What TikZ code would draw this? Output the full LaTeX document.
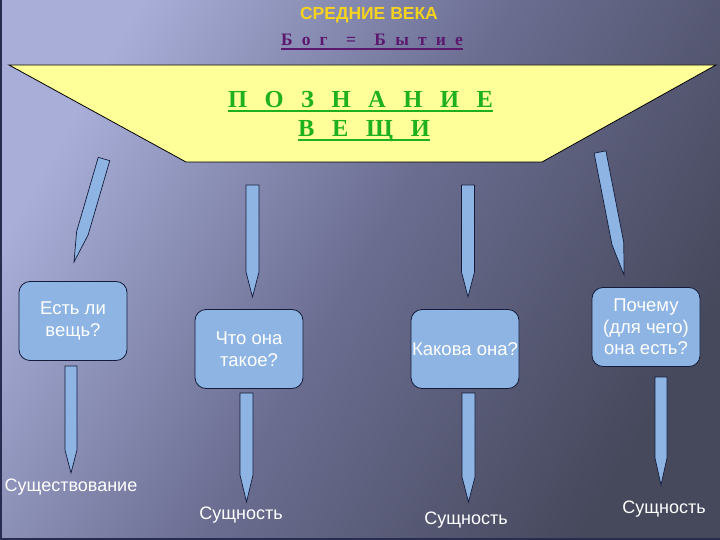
\documentclass[tikz,border=0pt]{standalone}
\usepackage{fontspec}
\setmainfont{Liberation Sans}
\newfontfamily\serifbf{Liberation Serif}
\usetikzlibrary{calc}
\definecolor{bgA}{RGB}{168,174,216}
\definecolor{bgB}{RGB}{106,109,144}
\definecolor{bgC}{RGB}{70,72,92}
\definecolor{pfill}{RGB}{141,180,226}
\definecolor{pline}{RGB}{20,28,60}
\definecolor{titleY}{RGB}{245,210,30}
\definecolor{bogC}{RGB}{92,24,110}
\definecolor{greenT}{RGB}{30,176,30}
\definecolor{trapY}{RGB}{255,255,153}
\definecolor{rim}{RGB}{40,44,80}
\newcommand\pencilpath[4]{% start, tip, taper length, half width
  \coordinate (#1-m) at ($(#2)!#3!(#1)$);
  \filldraw[pencilst] ($(#1)!#4!90:(#2)$) -- ($(#1-m)!#4!90:(#2)$) -- (#2)
    -- ($(#1-m)!#4!-90:(#2)$) -- ($(#1)!#4!-90:(#2)$) -- cycle;}
\begin{document}
\begin{tikzpicture}[x=1pt,y=-1pt,
  qbox/.style={draw=pline, line width=0.8pt, fill=pfill, rounded corners=11pt,
    minimum width=108pt, minimum height=79pt, align=center, text=white,
    font=\fontsize{18.5}{21.5}\selectfont, inner sep=1pt},
  pencilst/.style={draw=pline, line width=0.7pt, fill=pfill, line join=miter},
  lbl/.style={text=white, font=\fontsize{18}{21}\selectfont, inner sep=0pt, anchor=base},
  spaced/.style={anchor=base, inner sep=0pt, font=\serifbf\bfseries\fontsize{#1}{#1}\selectfont},
]
\useasboundingbox (0,0) rectangle (720,540);
\shade[top color=bgA, bottom color=bgC, middle color=bgB, shading angle=60] (0,0) rectangle (720,540);
\draw[rim, line width=2pt] (1,0) -- (1,540);
\draw[rim, line width=2pt] (0,539) -- (720,539);

% trapezoid
\filldraw[fill=trapY, draw=black, line width=0.8pt] (9,65) -- (716,65) -- (542,162) -- (186,162) -- cycle;

% titles
\node[font=\fontsize{17.5}{20}\selectfont\bfseries, text=titleY, inner sep=0pt, anchor=base] (title) at (369,20) {СРЕДНИЕ ВЕКА};
\node[spaced=17.5, text=bogC] (bog) at (372,46)
  {\makebox[182pt][s]{Б\hfill о\hfill г\hfill\hfill =\hfill\hfill Б\hfill ы\hfill т\hfill и\hfill е}};
\draw[bogC, line width=1.5pt] ([yshift=-3pt]bog.base west) -- ([yshift=-3pt]bog.base east);

\node[spaced=24.5, text=greenT] (pozn) at (360.5,108)
  {\makebox[265pt][s]{П\hfill О\hfill З\hfill Н\hfill А\hfill Н\hfill И\hfill Е}};
\draw[greenT, line width=2.2pt] ([yshift=-3pt]pozn.base west) -- ([yshift=-3pt]pozn.base east);
\node[spaced=24.5, text=greenT] (veshchi) at (364,137)
  {\makebox[132pt][s]{В\hfill Е\hfill Щ\hfill И}};
\draw[greenT, line width=2.2pt] ([yshift=-3pt]veshchi.base west) -- ([yshift=-3pt]veshchi.base east);

% boxes
\node[qbox] (b1) at (73,321) {Есть ли\\вещь?};
\node[qbox] (b2) at (249,349) {Что она\\такое?};
\node[qbox] (b3) at (465,349) {Какова она?};
\node[qbox] (b4) at (646,327) {Почему\\(для чего)\\она есть?};

% upper pencils
\coordinate (p1) at (104,159); \coordinate (p1t) at (74,262);
\coordinate (p2) at (252.5,185); \coordinate (p2t) at (252.5,297);
\coordinate (p3) at (468,185); \coordinate (p3t) at (468,297);
\coordinate (p4) at (600,152); \coordinate (p4t) at (624,275);
\pencilpath{p1}{p1t}{30pt}{6pt}
\pencilpath{p2}{p2t}{25pt}{6.5pt}
\pencilpath{p3}{p3t}{25pt}{6.5pt}
\pencilpath{p4}{p4t}{32pt}{6pt}

% lower pencils
\coordinate (q1) at (71,366); \coordinate (q1t) at (71,473);
\coordinate (q2) at (246.5,393); \coordinate (q2t) at (246.5,502);
\coordinate (q3) at (468.5,393); \coordinate (q3t) at (468.5,502);
\coordinate (q4) at (661,377); \coordinate (q4t) at (661,485);
\pencilpath{q1}{q1t}{23pt}{6pt}
\pencilpath{q2}{q2t}{27pt}{6.5pt}
\pencilpath{q3}{q3t}{25pt}{6.5pt}
\pencilpath{q4}{q4t}{27pt}{6pt}

% labels
\node[lbl] (l1) at (71,491) {Существование};
\node[lbl] (l2) at (241,519) {Сущность};
\node[lbl] (l3) at (466,524) {Сущность};
\node[lbl] (l4) at (664,513) {Сущность};
\end{tikzpicture}
\end{document}
